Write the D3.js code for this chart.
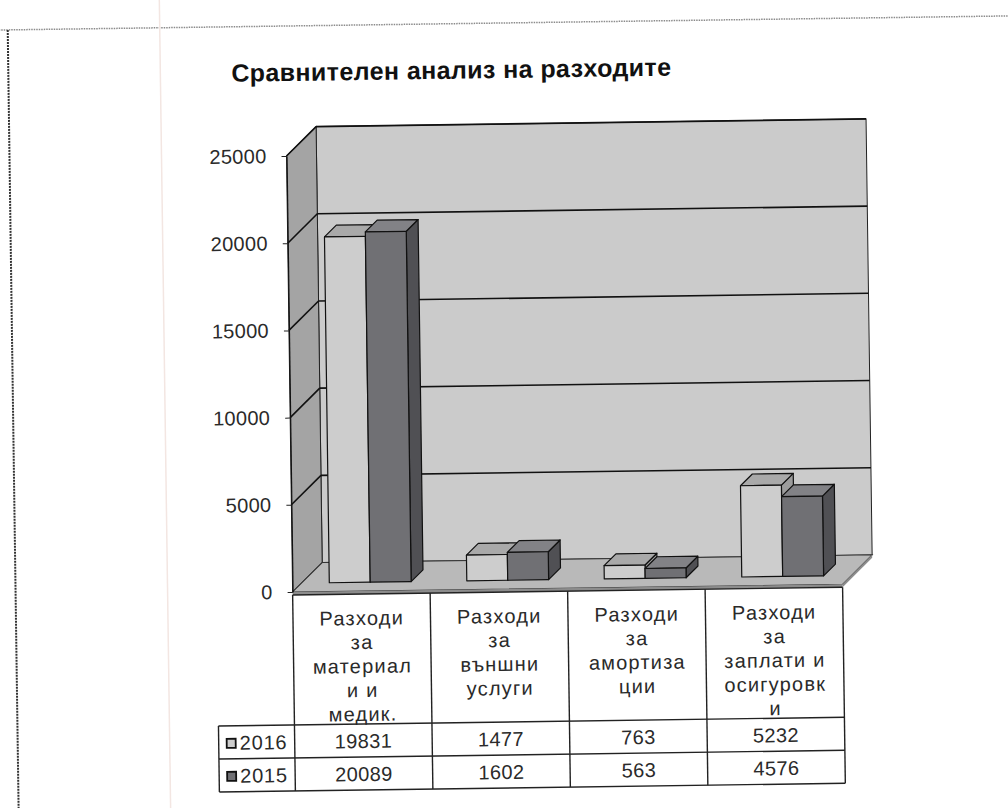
<!DOCTYPE html>
<html>
<head>
<meta charset="utf-8">
<script src="https://cdn.jsdelivr.net/npm/d3@7"></script>
<style>
body { margin:0; background:#fff; }
svg { display:block; font-family:"Liberation Sans", Arial, sans-serif; }
</style>
</head>
<body>
<div id="chart"></div>
<script>
const title = "Сравнителен анализ на разходите";
const categories = ["Разходи за материали и медик.", "Разходи за външни услуги", "Разходи за амортизации", "Разходи за заплати и осигуровки"];
// the category names as they are wrapped in the data table
const categoryLines = [
    ["Разходи","за","материал","и и","медик."],
    ["Разходи","за","външни","услуги"],
    ["Разходи","за","амортиза","ции"],
    ["Разходи","за","заплати и","осигуровк","и"]
];
const years = ["2016","2015"];
const values2016 = [19831,1477,763,5232];
const values2015 = [20089,1602,563,4576];
const yTicks = [0,5000,10000,15000,20000,25000];

const svgWidth = 1008;
const svgHeight = 808;
const plot = {left:290, right:840, top:153, bottom:589};
const depth = {dx:30, dy:-29};   // offset of the back wall
const barFront = 0.3, barBack = 0.7;  // bars sit in the middle of the depth

const faceColors = {
    front: ["#cdcdcd","#707074"],
    top:   ["#a9a9a9","#828286"],
    side:  ["#9c9c9c","#505054"]
};

document.addEventListener("DOMContentLoaded", function(){ drawChart(); });

function drawChart(){
    const root = d3.select("#chart").append("svg")
        .attr("width", svgWidth)
        .attr("height", svgHeight);

    // the scan is slightly tilted
    const svg = root.append("g").attr("transform","rotate(-0.8,504,404)");

    // page frame of the scan
    svg.append("line").attr("x1",4).attr("x2",1030).attr("y1",23).attr("y2",23)
        .attr("stroke","#8a8a8a").attr("stroke-width",1.5).attr("stroke-dasharray","1.5,1");
    svg.append("line").attr("x1",13).attr("x2",13).attr("y1",23).attr("y2",830)
        .attr("stroke","#333").attr("stroke-width",2).attr("stroke-dasharray","2,1");
    svg.append("line").attr("x1",165).attr("x2",165).attr("y1",-20).attr("y2",830)
        .attr("stroke","#f3e6e2").attr("stroke-width",1.5);

    svg.append("text")
        .attr("x", 456).attr("y", 78)
        .attr("text-anchor","middle")
        .attr("font-size", 25).attr("font-weight","bold")
        .attr("letter-spacing", 0.4)
        .attr("fill","#111")
        .text(title);

    const y = d3.scaleLinear().domain([0,25000]).range([plot.bottom, plot.top]);
    const x = d3.scaleBand().domain(categories).range([plot.left, plot.right]);
    const xs = d3.scaleBand().domain(years).range([0, x.bandwidth()]).paddingOuter(0.68);

    const P = function(pts){ return pts.map(p => p.join(",")).join(" "); };
    const x0 = plot.left, x1 = plot.right, y0 = y(0), yT = y(25000);
    const dx = depth.dx, dy = depth.dy;

    // walls and floor
    svg.append("polygon")
        .attr("points", P([[x0+dx,yT+dy],[x1+dx,yT+dy],[x1+dx,y0+dy],[x0+dx,y0+dy]]))
        .attr("fill","#cbcbcb").attr("stroke","#222").attr("stroke-width",1);
    svg.append("polygon")
        .attr("points", P([[x0,yT],[x0+dx,yT+dy],[x0+dx,y0+dy],[x0,y0]]))
        .attr("fill","#a4a4a4").attr("stroke","#222").attr("stroke-width",1);
    svg.append("polygon")
        .attr("points", P([[x0,y0],[x1,y0],[x1+dx,y0+dy],[x0+dx,y0+dy]]))
        .attr("fill","#b9b9b9").attr("stroke","#333").attr("stroke-width",1);
    svg.append("polygon")
        .attr("points", P([[x0,y0],[x1,y0],[x1,y0+3],[x0,y0+3]]))
        .attr("fill","#8c8c8c");
    svg.append("polygon")
        .attr("points", P([[x1,y0],[x1+dx,y0+dy],[x1+dx,y0+dy+3],[x1,y0+3]]))
        .attr("fill","#8c8c8c");

    // gridlines on back and left wall
    const grid = yTicks.filter(d => d > 0);
    svg.selectAll(".gridback").data(grid).enter().append("line")
        .attr("x1", x0+dx).attr("x2", x1+dx)
        .attr("y1", d => y(d)+dy).attr("y2", d => y(d)+dy)
        .attr("stroke","#111").attr("stroke-width",1.6);
    svg.selectAll(".gridleft").data(grid).enter().append("line")
        .attr("x1", x0).attr("x2", x0+dx)
        .attr("y1", d => y(d)).attr("y2", d => y(d)+dy)
        .attr("stroke","#111").attr("stroke-width",1.6);

    // y axis
    const yaxis = d3.axisLeft(y).tickValues(yTicks).tickSize(5).tickSizeOuter(0).tickPadding(15)
        .tickFormat(d3.format("d"));
    const ax = svg.append("g").attr("transform","translate("+x0+",0)").call(yaxis);
    ax.select(".domain").attr("stroke","#111").attr("stroke-width",1.2);
    ax.selectAll(".tick line").attr("stroke","#222");
    ax.selectAll(".tick text").attr("font-size",20).attr("fill","#2a2a2a").attr("letter-spacing",0.3)
        .attr("font-family","Liberation Sans, Arial, sans-serif");

    // 3d columns
    const series = [values2016, values2015];
    categories.forEach(function(cat, ci){
        years.forEach(function(yr, si){
            const v = series[si][ci];
            const w = xs.bandwidth();
            const fx = x(cat) + xs(yr) + dx*barFront;
            const fb = y(0) + dy*barFront;
            const ft = y(v) + dy*barFront;
            const bdx = dx*(barBack-barFront), bdy = dy*(barBack-barFront);
            const g = svg.append("g").attr("stroke","#111").attr("stroke-width",1.2).attr("stroke-linejoin","round");
            g.append("polygon")
                .attr("points", P([[fx+w,ft],[fx+w+bdx,ft+bdy],[fx+w+bdx,fb+bdy],[fx+w,fb]]))
                .attr("fill", faceColors.side[si]);
            g.append("polygon")
                .attr("points", P([[fx,ft],[fx+w,ft],[fx+w+bdx,ft+bdy],[fx+bdx,ft+bdy]]))
                .attr("fill", faceColors.top[si]);
            g.append("rect")
                .attr("x", fx).attr("y", ft).attr("width", w).attr("height", fb-ft)
                .attr("fill", faceColors.front[si]);
        });
    });

    // data table
    const tTop = y0 + 3, hBottom = 722, rowH = 33, rowLeft = 214;
    const table = svg.append("g").attr("font-size",20).attr("fill","#2a2a2a");
    const lineStyle = sel => sel.attr("stroke","#222").attr("stroke-width",1.4);

    lineStyle(table.append("line").attr("x1",x0).attr("x2",x1).attr("y1",tTop).attr("y2",tTop));
    [hBottom, hBottom+rowH, hBottom+2*rowH].forEach(function(ly){
        lineStyle(table.append("line").attr("x1",rowLeft).attr("x2",x1).attr("y1",ly).attr("y2",ly));
    });
    categories.concat(["end"]).forEach(function(c, i){
        const lx = i < categories.length ? x(c) : x1;
        lineStyle(table.append("line").attr("x1",lx).attr("x2",lx).attr("y1",tTop).attr("y2",hBottom+2*rowH));
    });
    lineStyle(table.append("line").attr("x1",rowLeft).attr("x2",rowLeft).attr("y1",hBottom).attr("y2",hBottom+2*rowH));

    categories.forEach(function(cat, ci){
        const t = table.append("text").attr("text-anchor","middle").attr("letter-spacing",1.2);
        categoryLines[ci].forEach(function(line, li){
            t.append("tspan").attr("x", x(cat)+x.bandwidth()/2).attr("y", tTop+31+li*24).text(line);
        });
    });

    years.forEach(function(yr, si){
        const rTop = hBottom + si*rowH;
        table.append("rect")
            .attr("x", rowLeft+8).attr("y", rTop+13).attr("width",9).attr("height",9)
            .attr("fill", faceColors.front[si]).attr("stroke","#111").attr("stroke-width",1.8);
        table.append("text").attr("x", rowLeft+21).attr("y", rTop+24).attr("letter-spacing",0.8).text(yr);
        categories.forEach(function(cat, ci){
            table.append("text")
                .attr("x", x(cat)+x.bandwidth()/2).attr("y", rTop+24)
                .attr("text-anchor","middle").attr("letter-spacing",0.4)
                .text(series[si][ci]);
        });
    });
}
</script>
</body>
</html>
